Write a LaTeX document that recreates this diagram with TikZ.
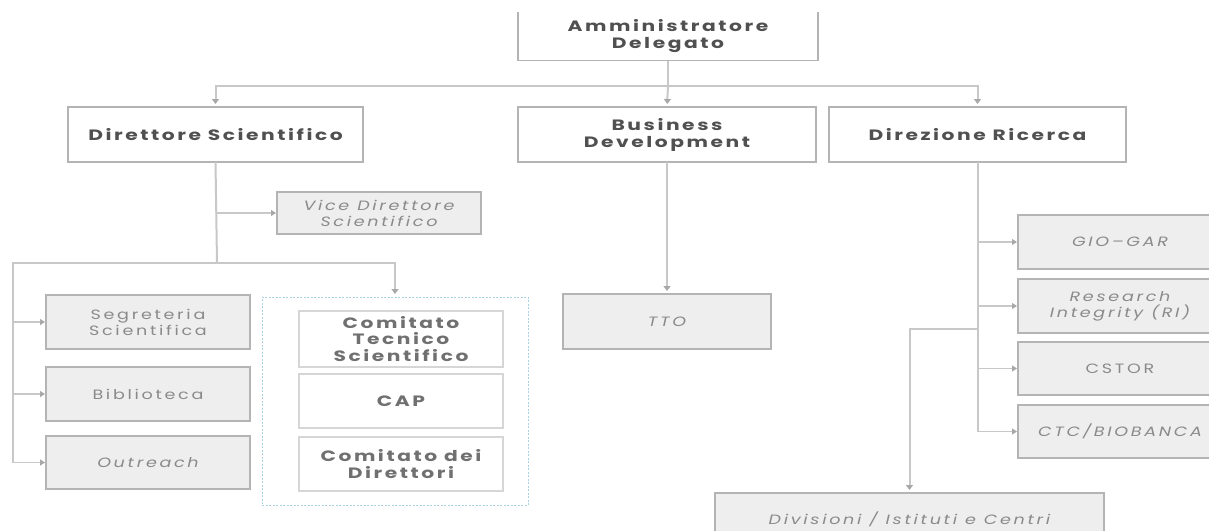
\documentclass[tikz,border=0pt]{standalone}
\usepackage{fontspec}
\setmainfont{Poppins}[FakeStretch=1.33]
\newfontfamily\titlefont{Poppins}[FakeStretch=1.35, LetterSpace=17]
\newfontfamily\bodyfont{Poppins}[FakeStretch=1.3, LetterSpace=20]
\usetikzlibrary{arrows.meta}
\definecolor{linegray}{HTML}{C8C8C8}
\definecolor{tipgray}{HTML}{A8A8A8}
\definecolor{boxline}{HTML}{B4B4B4}
\definecolor{innerline}{HTML}{D6D6D6}
\definecolor{boxfill}{HTML}{EEEEEE}
\definecolor{titletext}{HTML}{505050}
\definecolor{softtext}{HTML}{8A8A8A}
\definecolor{comtext}{HTML}{707070}
\definecolor{dashblue}{HTML}{A8D2E4}
\tikzset{
  base/.style={rectangle, inner sep=0pt, outer sep=0pt, align=center},
  titlefmt/.style={text=titletext, font=\titlefont\fontsize{15}{17}\selectfont\bfseries},
  titlebox/.style={base, fill=white, draw=boxline, line width=1.5pt, titlefmt},
  graybox/.style={base, fill=boxfill, draw=boxline, line width=1.5pt,
    text=softtext, font=\bodyfont\fontsize{13.5}{16}\selectfont},
  innerbox/.style={base, fill=white, draw=innerline, line width=1.5pt,
    text=comtext, font=\titlefont\fontsize{15}{16.5}\selectfont\bfseries},
  groupbox/.style={base, draw=dashblue, line width=1pt, dash pattern=on 2pt off 1.5pt},
  conn/.style={draw=linegray, line width=2pt},
  branch/.style={draw=linegray, line width=1.5pt,
    -{Triangle[width=6pt,length=5pt,color=tipgray]}, shorten >=1pt},
  down/.style={draw=linegray, line width=2pt,
    -{Triangle[width=7pt,length=5pt,color=tipgray]}, shorten >=3pt},
}
\begin{document}
\begin{tikzpicture}[x=1pt, y=-1pt]
\useasboundingbox (0,0) rectangle (1209,530);
\clip (0,0) rectangle (1209,530);

% top box (top edge outside the picture)
\node[base, minimum width=300pt, minimum height=49pt, titlefmt] (ad) at (668,36) {Amministratore\\Delegato};
\draw[draw=boxline, line width=1.5pt] (ad.north west) -- (ad.south west) -- (ad.south east) -- (ad.north east);

% second row
\node[titlebox, minimum width=295pt, minimum height=55pt] (ds) at (215.5,134.5) {Direttore Scientifico};
\node[titlebox, minimum width=298pt, minimum height=55pt] (bd) at (667,134.5) {Business\\Development};
\node[titlebox, minimum width=297pt, minimum height=55pt] (dr) at (977.5,134.5) {Direzione Ricerca};

% left branch
\node[graybox, minimum width=204pt, minimum height=42pt] (vice) at (379,213) {\itshape Vice Direttore\\\itshape Scientifico};
\node[graybox, minimum width=204pt, minimum height=54pt] (seg) at (148,322) {Segreteria\\Scientifica};
\node[graybox, minimum width=204pt, minimum height=54pt] (bib) at (148,394) {Biblioteca};
\node[graybox, minimum width=204pt, minimum height=53pt] (out) at (148,462.5) {\itshape Outreach};

\node[groupbox, minimum width=266pt, minimum height=208pt] (grp) at (395,401) {};
\node[innerbox, minimum width=204pt, minimum height=56pt] (cts) at (401,339) {Comitato\\Tecnico\\Scientifico};
\node[innerbox, minimum width=204pt, minimum height=54pt] (cap) at (401,401) {CAP};
\node[innerbox, minimum width=204pt, minimum height=54pt] (cdd) at (401,464) {Comitato dei\\Direttori};

% middle
\node[graybox, minimum width=208pt, minimum height=55pt] (tto) at (667,321.5) {\itshape TTO};

% right branch
\node[graybox, minimum width=204pt, minimum height=54pt] (gio) at (1120,242) {\itshape GIO–GAR};
\node[graybox, minimum width=204pt, minimum height=54pt] (ri) at (1120,306) {\itshape Research\\\itshape Integrity (RI)};
\node[graybox, minimum width=204pt, minimum height=53pt] (cstor) at (1120,368.5) {CSTOR};
\node[graybox, minimum width=204pt, minimum height=53pt] (ctc) at (1120,431.5) {\itshape CTC/BIOBANCA};
\node[graybox, minimum width=389pt, minimum height=52pt] (div) at (909.5,519) {\itshape Divisioni / Istituti e Centri};

% connectors from the top box
\coordinate (hub) at (668,86);
\draw[conn] (ad.south) -- (hub);
\draw[down] (hub) -| (ds.north);
\draw[down] (hub) -- (bd.north);
\draw[down] (hub) -| (dr.north);

% Direttore Scientifico
\coordinate (dsj) at (217,263);
\coordinate (lcol) at (13,263);
\draw[conn] (ds.south) -- (dsj);
\draw[branch] (ds.south |- vice.west) -- (vice.west);
\draw[conn] (dsj) -- (lcol) -- (lcol |- out.west);
\draw[branch] (lcol |- seg.west) -- (seg.west);
\draw[branch] (lcol |- bib.west) -- (bib.west);
\draw[branch] (lcol |- out.west) -- (out.west);
\draw[down] (dsj) -| (grp.north);

% Business Development
\draw[down] (bd.south) -- (bd.south |- tto.north);

% Direzione Ricerca
\coordinate (drj) at (979,329);
\draw[conn] (dr.south) -- (dr.south |- ctc.west);
\draw[branch] (dr.south |- gio.west) -- (gio.west);
\draw[branch] (dr.south |- ri.west) -- (ri.west);
\draw[branch] (dr.south |- cstor.west) -- (cstor.west);
\draw[branch] (dr.south |- ctc.west) -- (ctc.west);
\draw[down] (drj) -| (div.north);
\end{tikzpicture}
\end{document}
